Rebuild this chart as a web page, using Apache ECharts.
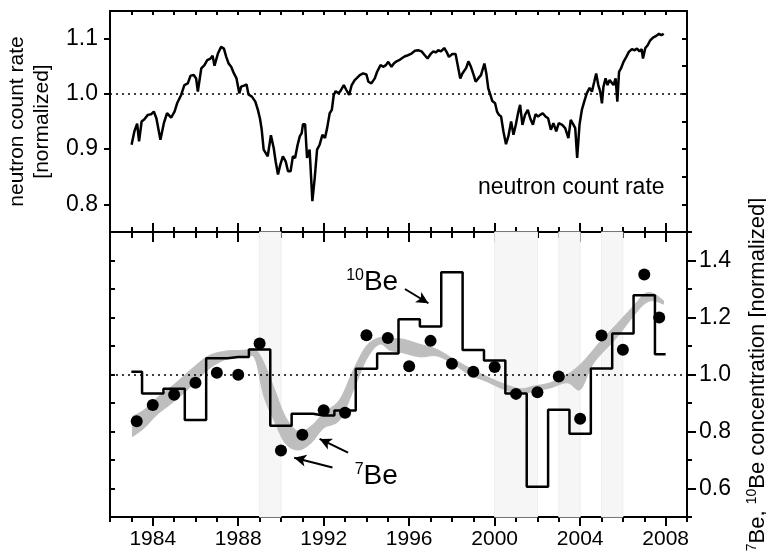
<!DOCTYPE html>
<html>
<head>
<meta charset="utf-8">
<script src="https://cdn.jsdelivr.net/npm/echarts@6/dist/echarts.min.js"></script>
<style>
  html, body { margin: 0; padding: 0; background: #fff; }
  #chart { width: 766px; height: 555px; }
</style>
</head>
<body>
<div id="chart"></div>
<script>
// ---- neutron monitor count rate (normalized) ----
const neutronYears = [
  1983.01, 1983.14, 1983.27, 1983.36, 1983.48, 1983.61, 1983.77, 1983.92, 1984.05, 1984.17,
  1984.36, 1984.52, 1984.67, 1984.86, 1985.02, 1985.14, 1985.33, 1985.48, 1985.64, 1985.77,
  1985.92, 1986.03, 1986.11, 1986.27, 1986.42, 1986.55, 1986.70, 1986.80, 1986.89, 1987.05,
  1987.20, 1987.33, 1987.44, 1987.55, 1987.67, 1987.80, 1987.92, 1988.05, 1988.14, 1988.27,
  1988.39, 1988.48, 1988.64, 1988.80, 1988.92, 1989.02, 1989.10, 1989.19, 1989.28, 1989.38,
  1989.53, 1989.66, 1989.75, 1989.86, 1989.97, 1990.09, 1990.22, 1990.33, 1990.45, 1990.56,
  1990.66, 1990.78, 1990.88, 1990.97, 1991.03, 1991.13, 1991.22, 1991.34, 1991.47, 1991.58,
  1991.69, 1991.81, 1991.94, 1992.06, 1992.16, 1992.28, 1992.38, 1992.47, 1992.56, 1992.69,
  1992.78, 1992.94, 1993.06, 1993.19, 1993.31, 1993.45, 1993.56, 1993.69, 1993.84, 1994.00,
  1994.09, 1994.23, 1994.39, 1994.50, 1994.66, 1994.78, 1994.91, 1995.02, 1995.17, 1995.28,
  1995.41, 1995.53, 1995.64, 1995.80, 1995.95, 1996.11, 1996.27, 1996.42, 1996.58, 1996.73,
  1996.86, 1997.02, 1997.13, 1997.24, 1997.36, 1997.49, 1997.64, 1997.75, 1997.86, 1998.02,
  1998.17, 1998.30, 1998.39, 1998.49, 1998.58, 1998.67, 1998.77, 1998.89, 1999.02, 1999.11,
  1999.23, 1999.36, 1999.52, 1999.61, 1999.70, 1999.80, 1999.89, 2000.02, 2000.11, 2000.20,
  2000.30, 2000.41, 2000.53, 2000.64, 2000.77, 2000.88, 2000.99, 2001.11, 2001.19, 2001.30,
  2001.42, 2001.55, 2001.67, 2001.79, 2001.91, 2002.03, 2002.13, 2002.25, 2002.38, 2002.50,
  2002.63, 2002.75, 2002.88, 2003.00, 2003.16, 2003.30, 2003.45, 2003.56, 2003.69, 2003.77,
  2003.86, 2003.97, 2004.08, 2004.19, 2004.31, 2004.44, 2004.55, 2004.66, 2004.75, 2004.85,
  2004.94, 2005.02, 2005.09, 2005.19, 2005.28, 2005.38, 2005.47, 2005.56, 2005.66, 2005.74,
  2005.82, 2005.91, 2006.03, 2006.16, 2006.28, 2006.42, 2006.55, 2006.66, 2006.78, 2006.88,
  2006.94, 2007.05, 2007.16, 2007.28, 2007.41, 2007.56, 2007.69, 2007.80, 2007.91
];
const neutronRate = [
  0.908, 0.932, 0.946, 0.914, 0.950, 0.954, 0.962, 0.963, 0.968, 0.956,
  0.917, 0.947, 0.965, 0.957, 0.968, 0.983, 0.998, 1.016, 1.019, 1.033,
  1.034, 1.028, 1.004, 1.046, 1.052, 1.061, 1.064, 1.069, 1.051, 1.073,
  1.085, 1.082, 1.067, 1.055, 1.049, 1.037, 1.028, 1.001, 1.013, 1.015,
  1.017, 0.999, 0.995, 0.986, 0.971, 0.955, 0.935, 0.899, 0.896, 0.887,
  0.925, 0.902, 0.878, 0.854, 0.872, 0.887, 0.878, 0.860, 0.860, 0.887,
  0.884, 0.908, 0.923, 0.929, 0.945, 0.945, 0.884, 0.899, 0.806, 0.848,
  0.899, 0.908, 0.926, 0.920, 0.938, 0.965, 0.971, 0.998, 1.005, 1.001,
  1.005, 1.016, 1.007, 0.998, 1.016, 1.025, 1.029, 1.034, 1.037, 1.035,
  1.022, 1.019, 1.028, 1.040, 1.052, 1.049, 1.052, 1.058, 1.049, 1.055,
  1.059, 1.061, 1.064, 1.068, 1.070, 1.073, 1.078, 1.079, 1.077, 1.070,
  1.064, 1.073, 1.077, 1.075, 1.079, 1.077, 1.083, 1.076, 1.067, 1.072,
  1.072, 1.046, 1.028, 1.037, 1.034, 1.047, 1.059, 1.049, 1.034, 1.022,
  1.028, 1.034, 1.055, 1.037, 1.010, 0.998, 0.987, 0.983, 0.968, 0.962,
  0.959, 0.932, 0.909, 0.923, 0.950, 0.926, 0.944, 0.968, 0.980, 0.944,
  0.962, 0.971, 0.955, 0.944, 0.963, 0.959, 0.962, 0.965, 0.959, 0.956,
  0.935, 0.947, 0.932, 0.947, 0.944, 0.938, 0.920, 0.953, 0.944, 0.938,
  0.884, 0.944, 0.971, 0.986, 1.001, 1.011, 1.004, 1.022, 1.037, 1.016,
  1.004, 0.983, 1.013, 1.028, 1.016, 1.025, 1.025, 1.016, 1.028, 0.986,
  1.040, 1.046, 1.058, 1.067, 1.076, 1.081, 1.079, 1.082, 1.077, 1.081,
  1.064, 1.083, 1.088, 1.097, 1.102, 1.105, 1.109, 1.106, 1.109
];

// ---- 10Be annual concentration (normalized) ----
const be10Years = [
  1983, 1984, 1985, 1986, 1987, 1988, 1989, 1990, 1991, 1992, 1993, 1994, 1995,
  1996, 1997, 1998, 1999, 2000, 2001, 2002, 2003, 2004, 2005, 2006, 2007, 2008
];
const be10Conc = [
  1.010, 0.933, 0.950, 0.840, 1.057, 1.061, 1.088, 0.820, 0.862, 0.856, 0.874, 1.020, 1.074,
  1.194, 1.168, 1.359, 1.086, 1.049, 0.933, 0.606, 0.876, 0.792, 1.021, 1.144, 1.278, 1.071
];

// ---- 7Be annual concentration (normalized) ----
const be7Years = [
  1983.25, 1984, 1985, 1986, 1987, 1988, 1989, 1990, 1991, 1992, 1993, 1994, 1995,
  1996, 1997, 1998, 1999, 2000, 2001, 2002, 2003, 2004, 2005, 2006, 2007, 2007.7
];
const be7Conc = [
  0.836, 0.893, 0.929, 0.971, 1.006, 0.999, 1.109, 0.733, 0.789, 0.875, 0.866, 1.138, 1.128,
  1.029, 1.118, 1.038, 1.010, 1.026, 0.932, 0.938, 0.993, 0.845, 1.137, 1.087, 1.351, 1.200
];

// ---- smoothed 7Be range (lower / upper envelope) ----
const bandYears = [
  1983.05, 1983.6, 1984.2, 1985.0, 1985.8, 1986.6, 1987.4, 1988.0, 1988.4, 1988.8,
  1989.2, 1989.7, 1990.2, 1990.8, 1991.4, 1992.0, 1992.75, 1993.4, 1994.0, 1994.6,
  1995.1, 1995.7, 1996.5, 1997.3, 1998.1, 1998.8, 1999.6, 2000.4, 2001.2, 2001.8,
  2002.6, 2003.4, 2004.0, 2004.5, 2004.9, 2005.7, 2006.5, 2007.0, 2007.4, 2007.9
];
const bandHigh = [
  0.853, 0.876, 0.918, 0.965, 1.018, 1.065, 1.082, 1.084, 1.086, 1.088,
  1.041, 0.947, 0.853, 0.800, 0.818, 0.865, 0.912, 1.018, 1.100, 1.129,
  1.126, 1.124, 1.106, 1.088, 1.053, 1.024, 0.994, 0.968, 0.950, 0.959,
  0.971, 1.000, 1.035, 1.076, 1.112, 1.176, 1.241, 1.282, 1.285, 1.259
];
const bandLow = [
  0.782, 0.812, 0.859, 0.906, 0.959, 1.018, 1.053, 1.060, 1.065, 1.053,
  0.924, 0.835, 0.759, 0.735, 0.759, 0.812, 0.841, 0.947, 1.053, 1.106,
  1.085, 1.076, 1.062, 1.065, 1.035, 1.000, 0.976, 0.949, 0.932, 0.941,
  0.953, 0.971, 0.947, 1.024, 1.065, 1.129, 1.206, 1.247, 1.259, 1.247
];

// ---- shaded periods ----
const shadedPeriods = [[1989, 1990], [2000, 2002], [2003, 2004], [2005, 2006]];

// ---- tick labels ----
const yearTicks = [1984, 1988, 1992, 1996, 2000, 2004, 2008];
const neutronTicks = [0.8, 0.9, 1.0, 1.1];
const beTicks = [0.6, 0.8, 1.0, 1.2, 1.4];

const allYears = [];
for (let y = 1982; y <= 2009; y++) allYears.push(y);
const neutronMinor = [0.75, 0.8, 0.85, 0.9, 0.95, 1.0, 1.05, 1.1, 1.15];
const beMinor = [0.5, 0.6, 0.7, 0.8, 0.9, 1.0, 1.1, 1.2, 1.3, 1.4, 1.5];
const beOdd = [0.5, 0.7, 0.9, 1.1, 1.3, 1.5];

const FONT = "'Liberation Sans', Arial, Helvetica, sans-serif";
const INK = '#000';
const BAND = '#bebebe';

// Catmull-Rom interpolation through pixel points (keeps the envelope edges smooth)
function catmullRom(pts, steps) {
  const out = [];
  const n = pts.length;
  for (let i = 0; i < n - 1; i++) {
    const p0 = pts[Math.max(i - 1, 0)], p1 = pts[i], p2 = pts[i + 1], p3 = pts[Math.min(i + 2, n - 1)];
    for (let s = 0; s < steps; s++) {
      const t = s / steps, t2 = t * t, t3 = t2 * t;
      const f = k => 0.5 * ((2 * p1[k]) + (-p0[k] + p2[k]) * t +
        (2 * p0[k] - 5 * p1[k] + 4 * p2[k] - p3[k]) * t2 +
        (-p0[k] + 3 * p1[k] - 3 * p2[k] + p3[k]) * t3);
      out.push([f(0), f(1)]);
    }
  }
  out.push(pts[n - 1]);
  return out;
}

function xAx(grid, pos, ticks, len, inside, opts) {
  return Object.assign({
    type: 'value', gridIndex: grid, position: pos, min: 1982, max: 2009,
    axisLine: { show: true, onZero: false, lineStyle: { color: INK, width: 2 } },
    axisTick: { show: true, inside: inside, length: len, customValues: ticks,
                lineStyle: { color: INK, width: 2 } },
    axisLabel: { show: false },
    splitLine: { show: false }
  }, opts || {});
}
function yAx(grid, pos, min, max, ticks, len, inside, opts) {
  return Object.assign({
    type: 'value', gridIndex: grid, position: pos, min: min, max: max,
    axisLine: { show: true, onZero: false, lineStyle: { color: INK, width: 2 } },
    axisTick: { show: true, inside: inside, length: len, customValues: ticks,
                lineStyle: { color: INK, width: 2 } },
    axisLabel: { show: false },
    splitLine: { show: false }
  }, opts || {});
}

const dotted = { color: INK, width: 1.5, type: [2, 4] };

const option = {
  backgroundColor: '#fff',
  animation: false,
  textStyle: { fontFamily: FONT, color: INK },
  grid: [
    { left: 110, right: 79, top: 11, height: 221, containLabel: false, outerBoundsMode: 'none' },
    { left: 110, right: 79, top: 232, height: 285, containLabel: false, outerBoundsMode: 'none' }
  ],
  xAxis: [
    xAx(0, 'bottom', yearTicks, 9, true),
    xAx(0, 'bottom', allYears, 5, true, { axisLine: { show: false } }),
    xAx(0, 'top', allYears, 4, true),
    xAx(1, 'bottom', yearTicks, 9, false, {
      axisLabel: { show: true, customValues: yearTicks, margin: 12,
                   fontSize: 21, fontFamily: FONT, color: INK,
                   formatter: v => String(v) }
    }),
    xAx(1, 'bottom', allYears, 5, false, { axisLine: { show: false } }),
    xAx(1, 'top', yearTicks, 10, true, { axisLine: { show: false } }),
    xAx(1, 'top', allYears, 6, true, { axisLine: { show: false } })
  ],
  yAxis: [
    yAx(0, 'left', 0.75, 1.15, neutronTicks, 6, false, {
      axisLabel: { show: true, customValues: neutronTicks, margin: 12,
                   fontSize: 23, fontFamily: FONT, color: INK,
                   formatter: v => v.toFixed(1) },
      name: 'neutron count rate\n[normalized]',
      nameLocation: 'middle', nameRotate: 90, nameGap: 52,
      nameTextStyle: { fontSize: 21, fontFamily: FONT, color: INK, lineHeight: 25 }
    }),
    yAx(0, 'right', 0.75, 1.15, neutronMinor, 5, true),
    yAx(1, 'left', 0.5, 1.5, beMinor, 5, true),
    yAx(1, 'right', 0.5, 1.5, beTicks, 9, false, {
      axisLabel: { show: true, customValues: beTicks, margin: 12,
                   fontSize: 23, fontFamily: FONT, color: INK,
                   formatter: v => v.toFixed(1) },
      name: '{sup|7}{t|Be, }{sup|10}{t|Be concentration [normalized]}',
      nameLocation: 'middle', nameRotate: 90, nameGap: 58,
      nameTextStyle: {
        fontFamily: FONT, color: INK,
        rich: {
          t: { fontSize: 22, fontFamily: FONT, color: INK, lineHeight: 25 },
          sup: { fontSize: 14, fontFamily: FONT, color: INK, lineHeight: 15, verticalAlign: 'top' }
        }
      }
    }),
    yAx(1, 'right', 0.5, 1.5, beOdd, 5, false, { axisLine: { show: false } })
  ],
  series: [
    // shaded periods and reference line (bottom panel)
    {
      type: 'line', xAxisIndex: 3, yAxisIndex: 2, data: [], z: 0, silent: true,
      markArea: {
        silent: true,
        itemStyle: { color: '#f6f6f6', borderColor: '#eeeeee', borderWidth: 1 },
        data: shadedPeriods.map(p => [{ xAxis: p[0] }, { xAxis: p[1] }])
      },
      markLine: {
        silent: true, symbol: 'none', label: { show: false },
        lineStyle: dotted, data: [{ yAxis: 1.0 }]
      }
    },
    // smoothed 7Be range
    {
      type: 'custom', xAxisIndex: 3, yAxisIndex: 2, z: 1, silent: true,
      data: [[bandYears[0], bandLow[0]]],
      renderItem: function (params, api) {
        const hi = bandYears.map((y, i) => api.coord([y, bandHigh[i]]));
        const lo = bandYears.map((y, i) => api.coord([y, bandLow[i]]));
        const pts = catmullRom(hi, 10).concat(catmullRom(lo, 10).reverse());
        return {
          type: 'polygon',
          shape: { points: pts },
          style: { fill: BAND, stroke: BAND, lineWidth: 1, lineJoin: 'round' }
        };
      }
    },
    // 10Be step line
    {
      name: '10Be', type: 'line', step: 'middle', xAxisIndex: 3, yAxisIndex: 2, z: 3,
      data: be10Years.map((y, i) => [y, be10Conc[i]]),
      symbol: 'none', lineStyle: { color: INK, width: 2.5 }
    },
    // 7Be points
    {
      name: '7Be', type: 'scatter', xAxisIndex: 3, yAxisIndex: 2, z: 4,
      data: be7Years.map((y, i) => [y, be7Conc[i]]),
      symbol: 'circle', symbolSize: 12, itemStyle: { color: INK, opacity: 1 }
    },
    // isotope labels and arrows
    {
      type: 'line', xAxisIndex: 3, yAxisIndex: 2, data: [], z: 5, silent: true,
      markLine: {
        silent: true, label: { show: false },
        lineStyle: { color: INK, width: 2, type: 'solid' },
        symbol: ['none', 'arrow'], symbolSize: [9, 12],
        data: [
          [{ coord: [1995.8, 1.300] }, { coord: [1996.9, 1.250] }],
          [{ coord: [1993.14, 0.726] }, { coord: [1991.81, 0.774] }],
          [{ coord: [1992.41, 0.674] }, { coord: [1990.62, 0.708] }]
        ]
      },
      markPoint: {
        silent: true, symbol: 'circle', symbolSize: 0,
        label: {
          show: true, position: 'right', distance: 0,
          rich: {
            t: { fontSize: 28, fontFamily: FONT, color: INK, lineHeight: 30 },
            sup: { fontSize: 16, fontFamily: FONT, color: INK, lineHeight: 17, verticalAlign: 'top' }
          }
        },
        data: [
          { coord: [1993.05, 1.322], label: { formatter: '{sup|10}{t|Be}' } },
          { coord: [1993.45, 0.642], label: { formatter: '{sup|7}{t|Be}' } }
        ]
      }
    },
    // neutron count rate
    {
      name: 'neutron count rate', type: 'line', xAxisIndex: 0, yAxisIndex: 0, z: 3,
      data: neutronYears.map((y, i) => [y, neutronRate[i]]),
      symbol: 'none', lineStyle: { color: INK, width: 2.5 },
      markLine: {
        silent: true, symbol: 'none', label: { show: false },
        lineStyle: dotted, data: [{ yAxis: 1.0 }]
      },
      markPoint: {
        silent: true, symbol: 'circle', symbolSize: 0,
        label: {
          show: true, position: 'left', distance: 0,
          fontSize: 23, fontFamily: FONT, color: INK,
          formatter: 'neutron count rate'
        },
        data: [{ coord: [2007.95, 0.83] }]
      }
    }
  ]
};

const chart = echarts.init(document.getElementById('chart'), null, { renderer: 'canvas' });
chart.setOption(option);
</script>
</body>
</html>
